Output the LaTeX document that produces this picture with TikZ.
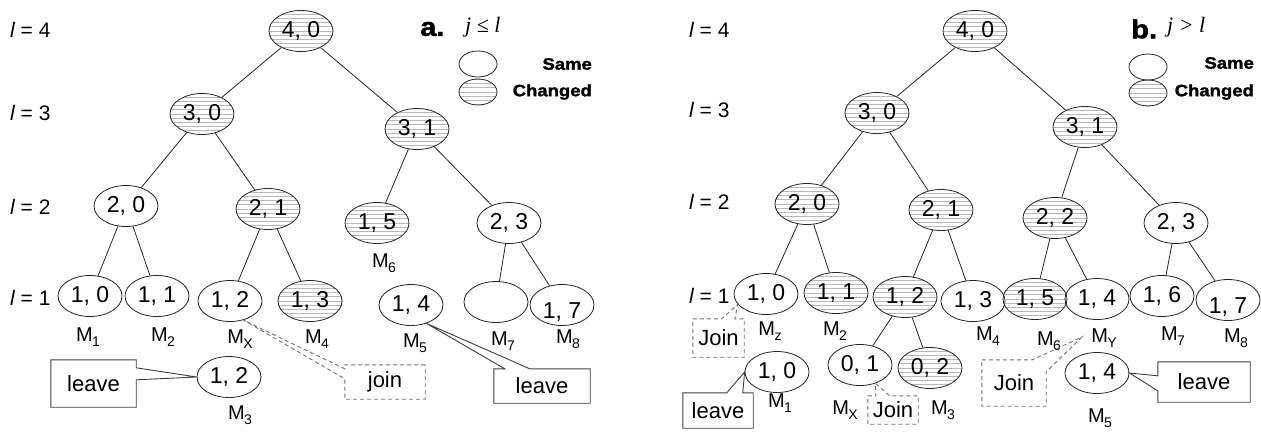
\documentclass[tikz,border=0pt]{standalone}
\usepackage{fontspec}
\setmainfont{Liberation Sans}
\newfontfamily\serifit{Liberation Serif}
\newfontfamily\heavy{Liberation Sans Bold}[FakeBold=1.6,FakeStretch=1.12]
\usetikzlibrary{shapes.geometric,calc}

% subscript for the member labels M_1 ... M_8
\newcommand\Mi[1]{M\kern-0.5pt\raisebox{-4.5pt}{\fontsize{14}{14}\selectfont #1}}

\tikzset{
  tn/.style={ellipse,draw=black!85,line width=0.8pt,minimum width=64pt,
    minimum height=41pt,inner sep=0pt,font=\fontsize{23}{23}\selectfont},
  leg/.style={ellipse,draw=black!85,line width=0.8pt,minimum width=38pt,
    minimum height=26pt,inner sep=0pt},
  hatched/.style={path picture={\foreach \k in {-7,...,7}{
    \draw[gray!55,line width=1pt]
      ([yshift=\k*4.2pt]path picture bounding box.west) --
      ([yshift=\k*4.2pt]path picture bounding box.east);}}},
  edge/.style={draw=black!85,line width=0.8pt},
  mlab/.style={font=\fontsize{20}{20}\selectfont,inner sep=0pt},
  lvl/.style={font=\fontsize{21}{21}\selectfont,anchor=west,inner sep=0pt},
  box/.style={rectangle,inner sep=0pt,font=\fontsize{22}{22}\selectfont},
  csolid/.style={draw=black!75,line width=0.9pt},
  cdash/.style={draw=black!55,line width=0.9pt,dash pattern=on 4pt off 3pt},
  legtxt/.style={font=\heavy\fontsize{16.5}{16.5}\selectfont,anchor=east,inner sep=0pt},
  panel/.style={font=\heavy\fontsize{26}{26}\selectfont,anchor=west,inner sep=0pt},
  cond/.style={font=\serifit\itshape\fontsize{22}{22}\selectfont,anchor=west,inner sep=0pt}
}

\begin{document}
\begin{tikzpicture}[x=1pt,y=-1pt]
\fill[white] (0,0) rectangle (1261,432);
\path[use as bounding box] (0,0) rectangle (1261,432);

% ---------------- panel a ----------------
\node[lvl] (la4) at (10,30) {{\itshape l} = 4};
\node[lvl] (la3) at (10,113) {{\itshape l} = 3};
\node[lvl] (la2) at (10,207) {{\itshape l} = 2};
\node[lvl] (la1) at (10,298) {{\itshape l} = 1};

\node[panel] (pa) at (420,29) {a.};
\node[cond] (ca) at (465,27) {j ≤ l};
\node[leg] (sa) at (478,64) {};
\node[leg,hatched] (cha) at (478,92) {};
\node[legtxt] (tsa) at (592,64) {Same};
\node[legtxt] (tcha) at (592,92) {Changed};

\node[tn,hatched] (a40) at (301,31) {4, 0};
\node[tn,hatched] (a30) at (202,114) {3, 0};
\node[tn,hatched] (a31) at (417,129) {3, 1};
\node[tn] (a20) at (126,206) {2, 0};
\node[tn,hatched] (a21) at (268,209) {2, 1};
\node[tn,hatched] (a15) at (377,223) {1, 5};
\node[tn] (a23) at (509,223) {2, 3};
\node[tn] (a10) at (90,296) {1, 0};
\node[tn] (a11) at (157,296) {1, 1};
\node[tn] (a12) at (230,301) {1, 2};
\node[tn,hatched] (a13) at (310,301) {1, 3};
\node[tn] (a14) at (411,305) {1, 4};
\node[tn] (a7) at (496,302) {};
\node[tn] (a17) at (562,305) {\raisebox{-7pt}[\height][\depth]{1, 7}};
\node[tn] (am3) at (229,377) {1, 2};

\draw[edge] (a40) -- (a30);
\draw[edge] (a40) -- (a31);
\draw[edge] (a30) -- (a20);
\draw[edge] (a30) -- (a21);
\draw[edge] (a31) -- (a15);
\draw[edge] (a31) -- (a23);
\draw[edge] (a20) -- (a10);
\draw[edge] (a20) -- (a11);
\draw[edge] (a21) -- (a12);
\draw[edge] (a21) -- (a13);
\draw[edge] (a23) -- (a7);
\draw[edge] (a23) -- (a17);

\node[mlab] (aM6) at (384,263) {\Mi{6}};
\node[mlab] (aM1) at (88,337) {\Mi{1}};
\node[mlab] (aM2) at (163,337) {\Mi{2}};
\node[mlab] (aMX) at (240,339) {\Mi{X}};
\node[mlab] (aM4) at (317,339) {\Mi{4}};
\node[mlab] (aM5) at (415,343) {\Mi{5}};
\node[mlab] (aM7) at (503,341) {\Mi{7}};
\node[mlab] (aM8) at (568,339) {\Mi{8}};
\node[mlab] (aM3) at (240,415) {\Mi{3}};

% callouts of panel a
\node[box,minimum width=85pt,minimum height=47pt] (leaveA) at (93.5,383.5) {leave};
\draw[csolid] (leaveA.north west) -- (leaveA.north east)
  -- ($(leaveA.north east)+(0,8)$) -- (am3.west)
  -- ($(leaveA.north east)+(0,20)$) -- (leaveA.south east)
  -- (leaveA.south west) -- cycle;

\node[box,minimum width=80pt,minimum height=34pt] (joinA) at (385,382) {join};
\draw[cdash] (joinA.north east) -- (joinA.north west)
  -- ($(joinA.north west)+(0,4)$) -- (a12.-55)
  -- ($(joinA.north west)+(0,14)$) -- (joinA.south west)
  -- (joinA.south east) -- cycle;

\node[box,minimum width=96pt,minimum height=34pt] (leaveA2) at (542,386) {leave};
\draw[csolid] (leaveA2.north west) -- ($(leaveA2.north west)+(11,0)$)
  -- (a14.-50) -- ($(leaveA2.north west)+(36,0)$)
  -- (leaveA2.north east) -- (leaveA2.south east)
  -- (leaveA2.south west) -- cycle;

% ---------------- panel b ----------------
\node[lvl] (lb4) at (689,30) {{\itshape l} = 4};
\node[lvl] (lb3) at (689,110) {{\itshape l} = 3};
\node[lvl] (lb2) at (689,202) {{\itshape l} = 2};
\node[lvl] (lb1) at (689,296) {{\itshape l} = 1};

\node[panel] (pb) at (1131,29) {b.};
\node[cond] (cb) at (1167,27) {j > l};
\node[leg] (sb) at (1148,67) {};
\node[leg,hatched] (chb) at (1148,93) {};
\node[legtxt] (tsb) at (1254,63) {Same};
\node[legtxt] (tchb) at (1254,92) {Changed};

\node[tn,hatched] (b40) at (975,31) {4, 0};
\node[tn,hatched] (b30) at (877,113) {3, 0};
\node[tn,hatched] (b31) at (1085,127) {3, 1};
\node[tn,hatched] (b20) at (807,204) {2, 0};
\node[tn,hatched] (b21) at (941,210) {2, 1};
\node[tn,hatched] (b22) at (1055,218) {2, 2};
\node[tn] (b23) at (1176,223) {2, 3};
\node[tn] (b10) at (766,294) {1, 0};
\node[tn,hatched] (b11) at (836,293) {1, 1};
\node[tn,hatched] (b12) at (905,297) {1, 2};
\node[tn] (b13) at (973,301) {1, 3};
\node[tn,hatched] (b15) at (1035,299) {1, 5};
\node[tn] (b14) at (1097,299) {1, 4};
\node[tn] (b16) at (1162,296) {1, 6};
\node[tn] (b17) at (1228,300) {\raisebox{-7pt}[\height][\depth]{1, 7}};
\node[tn] (bm1) at (777,372) {1, 0};
\node[tn] (b01) at (860,365) {0, 1};
\node[tn,hatched] (b02) at (930,368) {0, 2};
\node[tn] (bm5) at (1097,373) {1, 4};

\draw[edge] (b40) -- (b30);
\draw[edge] (b40) -- (b31);
\draw[edge] (b30) -- (b20);
\draw[edge] (b30) -- (b21);
\draw[edge] (b31) -- (b22);
\draw[edge] (b31) -- (b23);
\draw[edge] (b20) -- (b10);
\draw[edge] (b20) -- (b11);
\draw[edge] (b21) -- (b12);
\draw[edge] (b21) -- (b13);
\draw[edge] (b22) -- (b15);
\draw[edge] (b22) -- (b14);
\draw[edge] (b23) -- (b16);
\draw[edge] (b23) -- (b17);
\draw[edge] (b12) -- (b01);
\draw[edge] (b12) -- (b02);

\node[mlab] (bMz) at (770,331) {\Mi{z}};
\node[mlab] (bM2) at (835,331) {\Mi{2}};
\node[mlab] (bM4) at (988,336) {\Mi{4}};
\node[mlab] (bM6) at (1049,341) {\Mi{6}};
\node[mlab] (bMY) at (1104,338) {\Mi{Y}};
\node[mlab] (bM7) at (1173,336) {\Mi{7}};
\node[mlab] (bM8) at (1236,338) {\Mi{8}};
\node[mlab] (bM1) at (780,403) {\Mi{1}};
\node[mlab] (bMX) at (845,410) {\Mi{X}};
\node[mlab] (bM3) at (943,410) {\Mi{3}};
\node[mlab] (bM5) at (1100,418) {\Mi{5}};

% callouts of panel b
\node[box,minimum width=51pt,minimum height=38pt] (joinB1) at (718.5,338) {Join};
\draw[cdash] (joinB1.north west) -- ($(joinB1.north west)+(29,0)$)
  -- (b10.200) -- ($(joinB1.north west)+(42,0)$)
  -- (joinB1.north east) -- (joinB1.south east)
  -- (joinB1.south west) -- cycle;

\node[box,minimum width=70pt,minimum height=35pt] (leaveB1) at (718,410.5) {leave};
\draw[csolid] (leaveB1.north west) -- ($(leaveB1.north west)+(44,0)$)
  -- (bm1.west) -- ($(leaveB1.north west)+(60,0)$)
  -- (leaveB1.north east) -- (leaveB1.south east)
  -- (leaveB1.south west) -- cycle;

\node[box,minimum width=50pt,minimum height=28pt] (joinB2) at (893,410) {Join};
\draw[cdash] (joinB2.north west) -- ($(joinB2.north west)+(8,0)$)
  -- (b01.-50) -- ($(joinB2.north west)+(22,0)$)
  -- (joinB2.north east) -- (joinB2.south east)
  -- (joinB2.south west) -- cycle;

\node[box,minimum width=64pt,minimum height=46pt] (joinB3) at (1014,383) {Join};
\coordinate (jtip) at (1082,337);
\draw[cdash] (joinB3.north west) -- ($(joinB3.north east)+(-14,0)$)
  -- (jtip) -- ($(joinB3.north east)+(0,12)$)
  -- (joinB3.south east) -- (joinB3.south west) -- cycle;

\node[box,minimum width=92pt,minimum height=40pt] (leaveB2) at (1204,382) {leave};
\draw[csolid] (leaveB2.north west) -- (leaveB2.north east)
  -- (leaveB2.south east) -- (leaveB2.south west)
  -- ($(leaveB2.north west)+(0,29)$) -- (bm5.east)
  -- ($(leaveB2.north west)+(0,14)$) -- cycle;
\end{tikzpicture}
\end{document}
